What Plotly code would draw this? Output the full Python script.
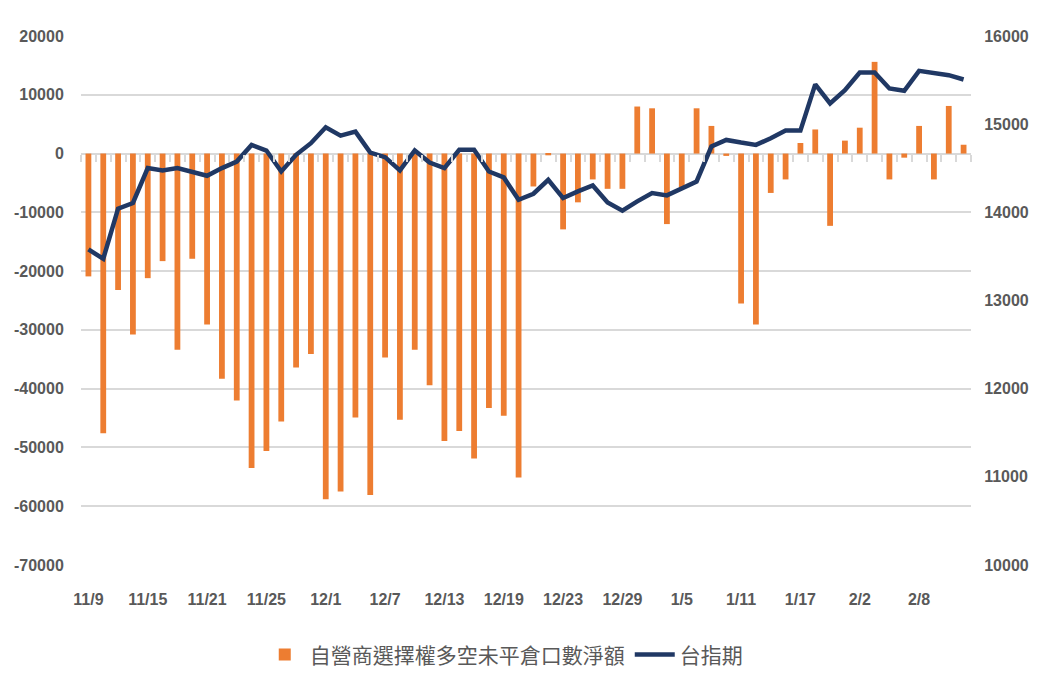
import plotly.graph_objects as go

dates = ["11/9","11/10","11/11","11/14","11/15","11/16","11/17","11/18","11/21","11/22",
         "11/23","11/24","11/25","11/28","11/29","11/30","12/1","12/2","12/5","12/6",
         "12/7","12/8","12/9","12/12","12/13","12/14","12/15","12/16","12/19","12/20",
         "12/21","12/22","12/23","12/26","12/27","12/28","12/29","12/30","1/3","1/4",
         "1/5","1/6","1/9","1/10","1/11","1/12","1/13","1/16","1/17","1/30",
         "1/31","2/1","2/2","2/3","2/6","2/7","2/8","2/9","2/10","2/13"]

net_oi = [-20900,-47600,-23200,-30800,-21200,-18300,-33400,-17900,-29100,-38300,
          -42000,-53500,-50600,-45600,-36400,-34100,-58800,-57500,-44900,-58100,
          -34700,-45300,-33400,-39400,-48900,-47200,-51900,-43300,-44600,-55100,
          -5600,-300,-12900,-8300,-4400,-6000,-6000,8000,7700,-12000,
          -5700,7700,4700,-400,-25500,-29100,-6700,-4400,1800,4100,
          -12300,2200,4400,15600,-4400,-700,4700,-4400,8100,1500]

taifex = [13579,13473,14042,14106,14502,14475,14502,14452,14415,14502,
          14576,14765,14701,14463,14652,14784,14965,14870,14915,14678,
          14626,14475,14701,14565,14502,14709,14709,14463,14396,14143,
          14211,14369,14162,14237,14305,14113,14019,14124,14219,14192,
          14276,14350,14746,14821,14791,14765,14840,14927,14927,15451,
          15236,15386,15586,15586,15405,15379,15605,15575,15556,15507]

tick_labels = ["11/9","11/15","11/21","11/25","12/1","12/7","12/13","12/19",
               "12/23","12/29","1/5","1/11","1/17","2/2","2/8"]

left_ticks = [20000, 10000, 0, -10000, -20000, -30000, -40000, -50000, -60000, -70000]
left_text = ["20000", "10000", "0", "-10000", "-20000", "-30000", "-40000", "-50000", "-60000", "-70000"]
right_ticks = [10000, 11000, 12000, 13000, 14000, 15000, 16000]
right_text = ["10000", "11000", "12000", "13000", "14000", "15000", "16000"]

bar_name = "自營商選擇權多空未平倉口數淨額"
line_name = "台指期"

GRAY = "#595959"
GRID = "#D9D9D9"
TICKFONT = dict(family="Liberation Sans, Arial, sans-serif", size=16, color=GRAY, weight="bold")

fig = go.Figure()
fig.add_trace(go.Bar(x=dates, y=net_oi, name=bar_name, marker_color="#ED7D31",
                     marker_line_width=0))
fig.add_trace(go.Scatter(x=dates, y=taifex, name=line_name, yaxis="y2", mode="lines",
                         line=dict(color="#203864", width=4.5)))
# invisible trace to carry the category-boundary tick marks on the zero line
fig.add_trace(go.Scatter(x=[0], y=[None], xaxis="x2", showlegend=False, hoverinfo="skip"))

y_min, y_max = -70000, 20000
n = len(dates)

fig.update_layout(
    width=1024, height=679,
    margin=dict(l=73, r=61, t=28, b=118),
    paper_bgcolor="white", plot_bgcolor="white",
    bargap=0.61,
    font=dict(family="Noto Sans CJK TC, sans-serif", color=GRAY),
    xaxis=dict(type="category", tickmode="array", tickvals=tick_labels, ticktext=tick_labels,
               tickfont=TICKFONT, showgrid=False, zeroline=False, showline=False,
               ticks="outside", ticklen=20, tickcolor="rgba(0,0,0,0)",
               range=[-0.5, n - 0.5], tickangle=0, automargin=False),
    xaxis2=dict(overlaying="x", anchor="free", position=(0 - y_min) / (y_max - y_min),
                range=[-0.5, n - 0.5], tickmode="array",
                tickvals=[k - 0.5 for k in range(n + 1)], ticks="outside", ticklen=7,
                tickcolor=GRID, tickwidth=1.5, showticklabels=False, showgrid=False,
                zeroline=False, showline=False, side="bottom", automargin=False),
    yaxis=dict(range=[y_min, y_max], tickmode="array", tickvals=left_ticks, ticktext=left_text,
               tickfont=TICKFONT, showgrid=True,
               gridcolor=GRID, gridwidth=2, zeroline=True, zerolinecolor=GRID, zerolinewidth=2,
               ticks="outside", ticklen=13, tickcolor="rgba(0,0,0,0)", showline=False,
               automargin=False),
    yaxis2=dict(range=[10000, 16000], tickmode="array", tickvals=right_ticks, ticktext=right_text,
                overlaying="y", side="right",
                tickfont=TICKFONT, showgrid=False, zeroline=False,
                ticks="outside", ticklen=9, tickcolor="rgba(0,0,0,0)", showline=False,
                automargin=False),
    legend=dict(orientation="h", x=0.475, xanchor="center", y=-0.17, yanchor="middle",
                font=dict(family="Noto Sans CJK TC, sans-serif", size=21, color=GRAY),
                itemwidth=40, traceorder="normal"),
    showlegend=True,
)

fig.write_html("out.html")
